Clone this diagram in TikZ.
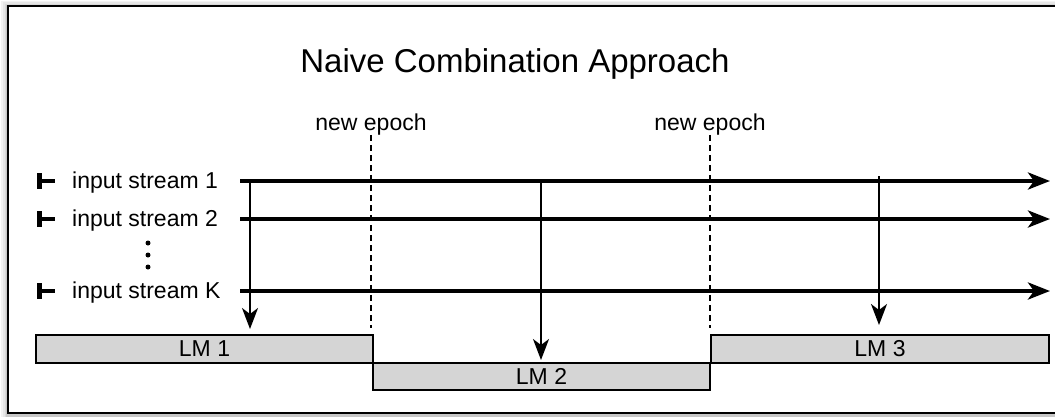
\documentclass[tikz,border=0pt]{standalone}
\usepackage{fontspec}
\usepackage{xcolor}
\setmainfont{Liberation Sans}
\usetikzlibrary{arrows.meta}

\definecolor{lmgray}{RGB}{213,213,213}
\newcommand{\smallfont}{\fontsize{23}{27}\selectfont}
\newcommand{\titlefont}{\fontsize{33}{40}\selectfont}

\begin{document}
\begin{tikzpicture}[x=1pt,y=-1pt,
    stream/.style={line width=4pt,-{Stealth[length=22pt,width=17pt,inset=6pt]}},
    feed/.style={line width=2pt,-{Stealth[length=21pt,width=16pt,inset=6pt]}},
    epoch line/.style={line width=2pt,dash pattern=on 6pt off 4pt},
    stream label/.style={font=\smallfont,anchor=base west,inner sep=0pt},
    epoch label/.style={font=\smallfont,anchor=base,inner sep=0pt},
    lm box/.style={draw,line width=2pt,fill=lmgray,minimum width=337pt,minimum height=28pt,inner sep=0pt,font=\smallfont},
    tick/.style={line width=5pt}]
        \useasboundingbox (0,0) rectangle (1055,416);
        \clip (0,0) rectangle (1055,416);

        % frame with a soft shadow
        \fill[black,opacity=0.05] (1,1) rectangle (1100,420);
        \fill[black,opacity=0.05] (3,2) rectangle (1100,420);
        \fill[black,opacity=0.06] (5,4) rectangle (1100,420);
        \fill[black,opacity=0.08] (6,5) rectangle (1100,420);
        \draw[line width=2.5pt,fill=white] (8,6) rectangle (1090,413);

        \node[font=\titlefont,anchor=base] (title) at (515,72) {Naive Combination Approach};

        % epochs
        \node[epoch label] (ep1) at (371,130) {new epoch};
        \node[epoch label] (ep2) at (710,130) {new epoch};
        \coordinate (ep1 end) at (371,328);
        \coordinate (ep2 end) at (710,328);
        \draw[epoch line] (ep1.south) -- (ep1 end);
        \draw[epoch line] (ep2.south) -- (ep2 end);

        % input streams
        \node[stream label] (in1) at (72,188.5) {input stream 1};
        \node[stream label] (in2) at (72,226.5) {input stream 2};
        \node[stream label] (inK) at (72,298.5) {input stream K};
        \draw[tick] (39.5,173) -- (39.5,189);
        \draw[tick] (39.5,211) -- (39.5,227);
        \draw[tick] (39.5,283) -- (39.5,299);
        \draw[line width=4pt] (39.5,181) -- (55,181);
        \draw[line width=4pt] (39.5,219) -- (55,219);
        \draw[line width=4pt] (39.5,291) -- (55,291);
        \fill (148,243) circle (2.5pt);
        \fill (148,255) circle (2.5pt);
        \fill (148,267) circle (2.5pt);

        \coordinate (s1) at (240,181);
        \coordinate (s2) at (240,219);
        \coordinate (sK) at (240,291);
        \coordinate (e1) at (1050,181);
        \coordinate (e2) at (1050,219);
        \coordinate (eK) at (1050,291);
        \draw[stream] (s1) -- (e1);
        \draw[stream] (s2) -- (e2);
        \draw[stream] (sK) -- (eK);

        % language models
        \node[lm box] (lm1) at (204.5,349) {LM 1};
        \node[lm box,minimum height=27pt] (lm2) at (541.5,376.5) {LM 2};
        \node[lm box,minimum width=338pt] (lm3) at (880,349) {LM 3};

        \coordinate (f1) at (250,181);
        \coordinate (f2) at (541,181);
        \coordinate (f3) at (879,176);
        \coordinate (t1) at (250,329);
        \coordinate (t2) at (541,360);
        \coordinate (t3) at (879,325);
        \draw[feed] (f1) -- (t1);
        \draw[feed] (f2) -- (t2);
        \draw[feed] (f3) -- (t3);
      \end{tikzpicture}
\end{document}
